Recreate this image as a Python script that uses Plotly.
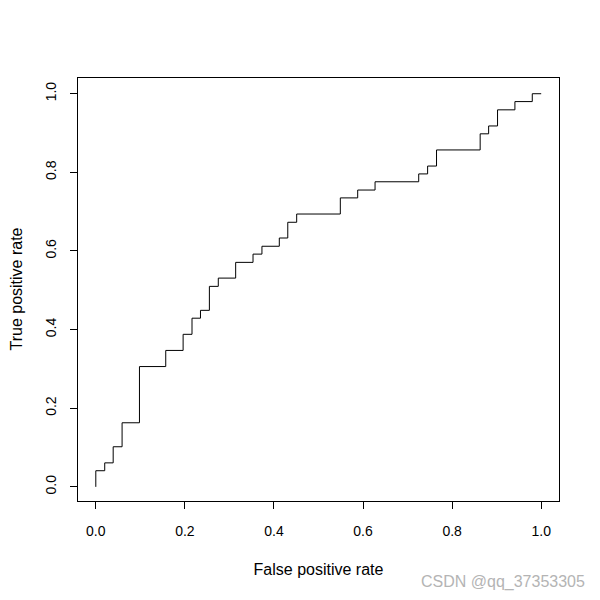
import plotly.graph_objects as go

fpr = [0.0, 0.0, 0.020, 0.039, 0.059, 0.098, 0.157, 0.196, 0.216, 0.235, 0.255,
       0.275, 0.314, 0.353, 0.373, 0.412, 0.431, 0.451, 0.549, 0.588, 0.627,
       0.725, 0.745, 0.765, 0.863, 0.882, 0.902, 0.941, 0.980, 1.0]
tpr = [0.0, 0.041, 0.061, 0.102, 0.163, 0.306, 0.347, 0.388, 0.429, 0.449, 0.510,
       0.531, 0.571, 0.592, 0.612, 0.633, 0.673, 0.694, 0.735, 0.755, 0.776,
       0.796, 0.816, 0.857, 0.898, 0.918, 0.959, 0.980, 1.0, 1.0]
tick_vals = [0.0, 0.2, 0.4, 0.6, 0.8, 1.0]
tick_text = ["0.0", "0.2", "0.4", "0.6", "0.8", "1.0"]

font_family = "Liberation Sans, Arial, sans-serif"

fig = go.Figure()
fig.add_trace(go.Scatter(x=fpr, y=tpr, mode="lines", line=dict(color="black", width=1, shape="hv"),
                         showlegend=False, hoverinfo="skip"))

axis_common = dict(showline=True, mirror=True, linecolor="black", linewidth=1,
                   ticks="outside", ticklen=7, tickwidth=1, tickcolor="black",
                   showgrid=False, zeroline=False, tickvals=tick_vals, ticktext=tick_text,
                   automargin=False,
                   tickfont=dict(family=font_family, size=14, color="black"))

fig.update_layout(
    width=600, height=600,
    margin=dict(l=70, r=49, t=70, b=107),
    paper_bgcolor="white", plot_bgcolor="white",
    font=dict(family=font_family, size=14, color="black"),
    xaxis=dict(range=[-0.04, 1.04], title=dict(text="False positive rate", standoff=26,
               font=dict(family=font_family, size=16)), ticklabelstandoff=10, **axis_common),
    yaxis=dict(range=[-0.036, 1.04], tickangle=-90, ticklabelstandoff=8, **axis_common),
)
fig.layout.annotations = [
    dict(text="True positive rate", textangle=-90, x=0, xanchor="center", xshift=-62,
         y=0.5, yanchor="middle", xref="paper", yref="paper", showarrow=False,
         font=dict(family=font_family, size=16, color="black")),
    dict(text="CSDN @qq_37353305", x=1.0, xanchor="right", xshift=28,
         y=0, yanchor="middle", yshift=-81, xref="paper", yref="paper",
         showarrow=False, font=dict(family=font_family, size=16, color="#b4b4b4")),
]

fig.write_html("out.html")
